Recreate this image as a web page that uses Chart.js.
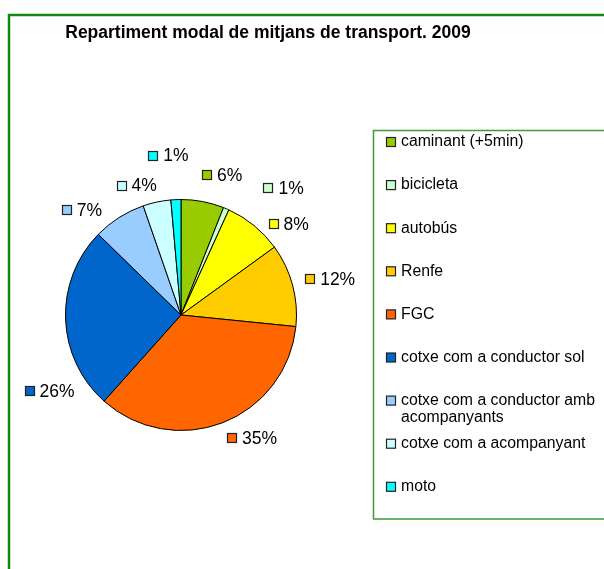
<!DOCTYPE html>
<html>
<head>
<meta charset="utf-8">
<script src="https://cdn.jsdelivr.net/npm/chart.js@4.4.0/dist/chart.umd.min.js"></script>
<style>
  html, body { margin: 0; padding: 0; background: #fff; }
  #wrap { width: 604px; height: 569px; }
</style>
</head>
<body>
<div id="wrap"><canvas id="chart" width="604" height="569"></canvas></div>
<script>
const title = 'Repartiment modal de mitjans de transport. 2009';
const categories = [
  'caminant (+5min)',
  'bicicleta',
  'autobús',
  'Renfe',
  'FGC',
  'cotxe com a conductor sol',
  'cotxe com a conductor amb acompanyants',
  'cotxe com a acompanyant',
  'moto'
];
const shares = [6.0, 0.8, 8.2, 11.6, 35.0, 25.7, 7.4, 3.9, 1.4];
const colors = ['#99CC00', '#CCFFCC', '#FFFF00', '#FFCC00', '#FF6600',
                '#0066CC', '#99CCFF', '#CCFFFF', '#00FFFF'];

const FONT = '"Liberation Sans", Arial, sans-serif';

// small shifts so the labels sit where the original put them
const labelNudge = [[13, -6], [44, -1], [13, 15], [0, 0], [15, -4],
                    [23, 71], [-19, 10], [-13, 4], [-6, -23]];

const backdrop = {
  id: 'backdrop',
  beforeDraw(chart) {
    const ctx = chart.ctx;
    ctx.save();
    ctx.fillStyle = '#fff';
    ctx.fillRect(0, 0, chart.width, chart.height);

    // outer frame (runs off the right and bottom)
    ctx.strokeStyle = '#118811';
    ctx.lineWidth = 2.5;
    ctx.beginPath();
    ctx.moveTo(9, chart.height + 5);
    ctx.lineTo(9, 15);
    ctx.lineTo(chart.width + 5, 15);
    ctx.stroke();

    // title
    ctx.fillStyle = '#000';
    ctx.font = 'bold 17.5px ' + FONT;
    ctx.textAlign = 'center';
    ctx.textBaseline = 'alphabetic';
    ctx.fillText(title, 268, 38);

    // legend box
    ctx.strokeStyle = '#3c9c3c';
    ctx.lineWidth = 1.5;
    ctx.strokeRect(373.5, 130.5, 260, 388.5);

    ctx.font = '15.8px ' + FONT;
    ctx.textAlign = 'left';
    ctx.textBaseline = 'middle';
    const bg = chart.data.datasets[0].backgroundColor;
    chart.data.labels.forEach((lab, i) => {
      const y = 142 + i * 43.1;
      ctx.fillStyle = bg[i];
      ctx.fillRect(386.5, y - 4.5, 9, 9);
      ctx.strokeStyle = '#222';
      ctx.lineWidth = 1.2;
      ctx.strokeRect(386.5, y - 4.5, 9, 9);
      ctx.fillStyle = '#000';
      // wrap long entries
      const words = lab.split(' ');
      const lines = [];
      let cur = '';
      words.forEach(w => {
        const t = cur ? cur + ' ' + w : w;
        if (ctx.measureText(t).width > 198 && cur) { lines.push(cur); cur = w; }
        else cur = t;
      });
      lines.push(cur);
      lines.forEach((ln, k) => ctx.fillText(ln, 401, y + k * 17));
    });
    ctx.restore();
  }
};

const sliceLabels = {
  id: 'sliceLabels',
  afterDatasetsDraw(chart) {
    const ctx = chart.ctx;
    const meta = chart.getDatasetMeta(0);
    const data = chart.data.datasets[0].data;
    const total = data.reduce((a, b) => a + b, 0);
    const bg = chart.data.datasets[0].backgroundColor;
    ctx.save();
    ctx.font = '17.5px ' + FONT;
    ctx.textBaseline = 'middle';
    ctx.textAlign = 'left';
    meta.data.forEach((arc, i) => {
      const p = arc.getProps(['x', 'y', 'startAngle', 'endAngle', 'outerRadius'], true);
      const mid = (p.startAngle + p.endAngle) / 2;
      const cx = Math.cos(mid), cy = Math.sin(mid);
      const R = p.outerRadius + 14;
      const txt = Math.round(data[i] / total * 100) + '%';
      const tw = ctx.measureText(txt).width;
      const w = 9 + 6 + tw, h = 14;
      const bx = p.x + cx * R + cx * w / 2 + labelNudge[i][0];
      const by = p.y + cy * R + cy * h / 2 + labelNudge[i][1];
      const left = bx - w / 2;
      ctx.fillStyle = bg[i];
      ctx.fillRect(Math.round(left) + 0.5, Math.round(by) - 4.5, 9, 9);
      ctx.strokeStyle = '#222';
      ctx.lineWidth = 1.2;
      ctx.strokeRect(Math.round(left) + 0.5, Math.round(by) - 4.5, 9, 9);
      ctx.fillStyle = '#000';
      ctx.fillText(txt, left + 15, by + 1);
    });
    ctx.restore();
  }
};

new Chart(document.getElementById('chart'), {
  type: 'pie',
  data: {
    labels: categories,
    datasets: [{
      data: shares,
      backgroundColor: colors,
      borderColor: '#000',
      borderWidth: 1
    }]
  },
  options: {
    responsive: false,
    animation: false,
    devicePixelRatio: 1,
    layout: { padding: { left: 65, top: 199, right: 307, bottom: 138 } },
    plugins: {
      legend: { display: false },
      title: { display: false },
      tooltip: { enabled: false }
    }
  },
  plugins: [backdrop, sliceLabels]
});
</script>
</body>
</html>
